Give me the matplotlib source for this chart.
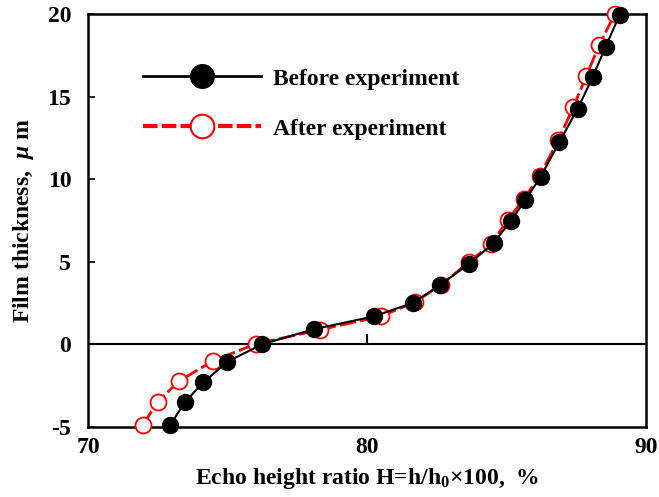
import matplotlib
matplotlib.use("Agg")
import matplotlib.pyplot as plt
from matplotlib.lines import Line2D

plt.rcParams['font.family'] = ['Liberation Serif', 'DejaVu Serif']
plt.rcParams['font.weight'] = 'bold'
plt.rcParams['axes.unicode_minus'] = False
plt.rcParams['mathtext.fontset'] = 'custom'
plt.rcParams['mathtext.rm'] = 'Liberation Serif:bold'
plt.rcParams['mathtext.it'] = 'Liberation Serif:italic:bold'
plt.rcParams['mathtext.bf'] = 'Liberation Serif:bold'

# echo height ratio (%) and film thickness (um)
before_x = [72.95, 73.47, 74.14, 75.0, 76.24, 78.11, 80.25, 81.65, 82.61, 83.65,
            84.55, 85.16, 85.68, 86.23, 86.90, 87.56, 88.09, 88.56, 89.06]
before_y = [-4.9, -3.5, -2.3, -1.05, 0.0, 0.92, 1.69, 2.51, 3.57, 4.86,
            6.14, 7.47, 8.73, 10.14, 12.24, 14.27, 16.16, 18.02, 19.94]
after_x = [71.96, 72.50, 73.27, 74.48, 76.01, 78.31, 80.49, 81.74, 82.65, 83.65,
           84.46, 85.06, 85.62, 86.19, 86.86, 87.40, 87.86, 88.33, 88.89]
after_y = [-4.9, -3.47, -2.22, -1.0, 0.02, 0.88, 1.69, 2.57, 3.59, 4.96,
           6.08, 7.55, 8.78, 10.2, 12.35, 14.35, 16.22, 18.12, 20.0]

xticks = [70, 80, 90]
yticks = [-5, 0, 5, 10, 15, 20]

fig = plt.figure(figsize=(6.59, 4.97), dpi=100)
ax = fig.add_axes([0.1335, 0.141, 0.8465, 0.831])

ax.axhline(0, color='black', lw=1.5, zorder=1)
ax.vlines([xticks[1]], 0, 0.6, color='black', lw=1.5, zorder=1)

ax.plot(after_x, after_y, color='red', lw=2, dashes=(6, 1.5), marker='o',
        ms=11.5, mfc='white', mec='red', mew=1.3, zorder=3, clip_on=False)
ax.plot(before_x, before_y, color='black', lw=1.5, marker='o',
        ms=11.5, mfc='black', mec='black', zorder=4, clip_on=False)

ax.set_xlim(70, 90)
ax.set_ylim(-5, 20)
ax.set_xticks(xticks)
ax.set_yticks(yticks)
ax.tick_params(axis='x', length=0, labelsize=17, pad=7)
ax.tick_params(axis='y', direction='in', length=5, width=1.2, labelsize=17, pad=12)
for s in ax.spines.values():
    s.set_linewidth(1.8)

ax.set_xlabel(r'Echo height ratio H=h/h$_0$×100,  %', fontsize=17, fontweight='bold', labelpad=6)
ax.set_ylabel(r'Film thickness,  $\mu$ m', fontsize=17, fontweight='bold', labelpad=8)

handles = [
    Line2D([], [], color='black', lw=2, marker='o', ms=17, mfc='black', mec='black'),
    Line2D([], [], color='red', lw=3, dashes=(3.5, 1), marker='o', ms=17,
           mfc='white', mec='red', mew=1.5),
]
ax.legend(handles, ['Before experiment', 'After experiment'], loc='upper left',
          bbox_to_anchor=(0.06, 0.92), frameon=False, fontsize=17,
          handlelength=5.0, handletextpad=0.5, labelspacing=1.2)

fig.savefig('out.png', dpi=100)
